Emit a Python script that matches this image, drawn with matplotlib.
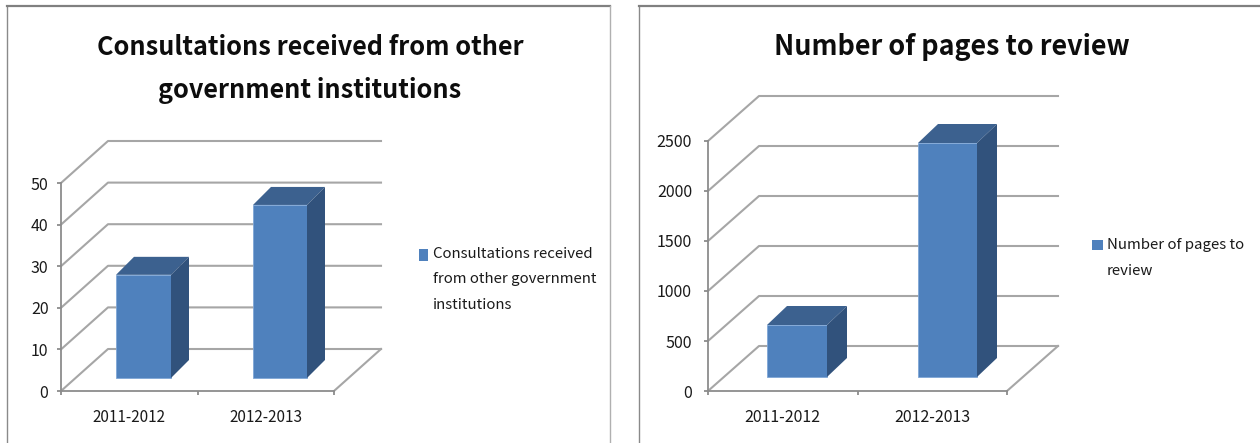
import matplotlib
matplotlib.use("Agg")
import matplotlib.pyplot as plt
from matplotlib.patches import Polygon, Rectangle

W, H = 1260, 443
plt.rcParams['font.family'] = ['Noto Sans CJK SC', 'DejaVu Sans']

periods = ["2011-2012", "2012-2013"]

consult_title = "Consultations received from other\ngovernment institutions"
consult_legend = "Consultations received\nfrom other government\ninstitutions"
consult_values = [24.8, 41.6]
consult_ticks = [0, 10, 20, 30, 40, 50]

pages_title = "Number of pages to review"
pages_legend = "Number of pages to\nreview"
pages_values = [520, 2340]
pages_ticks = [0, 500, 1000, 1500, 2000, 2500]

FRONT = "#4F81BD"
TOP = "#3C618F"
SIDE = "#31527C"
GRID = "#A6A6A6"
AXIS = "#8C8C8C"
INK = "#1A1A1A"

fig = plt.figure(figsize=(W / 100, H / 100), dpi=100, facecolor="white")


def panel_frame(x0, x1, y0=5.5):
    # Thin window-style border, heavier along the top edge
    bg = fig.add_axes([0, 0, 1, 1], zorder=0)
    bg.set_xlim(0, W)
    bg.set_ylim(H, 0)
    bg.axis("off")
    bg.plot([x0, x0], [y0, H], color="#8A8A8A", lw=1.0)
    bg.plot([x0, x1], [y0, y0], color="#808080", lw=1.6)
    if x1 < W:
        bg.plot([x1, x1], [y0, H], color="#B0B0B0", lw=1.0)


def chart(rect, ticks, values, depth, bar_depth, lift, bar_edges, title, title_y, title_size,
          legend, legend_xy, swatch, tick_pad, label_size):
    left, right, top, bottom = rect
    ax = fig.add_axes([left / W, 1 - bottom / H, (right - left) / W, (bottom - top) / H],
                      zorder=2)
    ax.set_xlim(0, 2)
    ax.set_ylim(ticks[0], ticks[-1])
    ax.patch.set_alpha(0)
    for s in ("top", "right"):
        ax.spines[s].set_visible(False)
    for s in ("left", "bottom"):
        ax.spines[s].set_color(AXIS)
        ax.spines[s].set_linewidth(1.3)

    ux = 2 / (right - left)                 # data units per pixel, horizontal
    uy = ticks[-1] / (bottom - top)         # data units per pixel, vertical
    ddx, ddy = depth[0] * ux, depth[1] * uy

    # Back wall gridlines with their diagonal returns to the axis
    for t in ticks:
        ax.plot([0, ddx, 2 + ddx], [t, t + ddy, t + ddy], color=GRID, lw=1.5,
                clip_on=False, zorder=1)
    ax.plot([2, 2 + ddx], [0, ddy], color=GRID, lw=1.5, clip_on=False, zorder=1)

    # Extruded columns: front face, top and side
    bdx, bdy = bar_depth[0] * ux, bar_depth[1] * uy
    base = lift * uy
    for (xa, xb), v in zip(bar_edges, values):
        a, b = (xa - left) * ux, (xb - left) * ux
        ax.bar((a + b) / 2, v, width=b - a, bottom=base, color=FRONT, zorder=3,
               edgecolor="#7FA6D6", linewidth=0.6)
        t = base + v
        ax.add_patch(Polygon([(a, t), (a + bdx, t + bdy), (b + bdx, t + bdy), (b, t)],
                             closed=True, facecolor=TOP, edgecolor="none", zorder=3,
                             clip_on=False))
        ax.add_patch(Polygon([(b, base), (b + bdx, base + bdy), (b + bdx, t + bdy), (b, t)],
                             closed=True, facecolor=SIDE, edgecolor="none", zorder=3,
                             clip_on=False))

    ax.set_yticks(ticks)
    ax.set_xticks([0, 1, 2])
    ax.set_xticklabels([])
    ax.tick_params(axis="both", color=AXIS, width=1.3, length=3, direction="out")
    ax.tick_params(axis="y", labelsize=11.5, labelcolor=INK, pad=tick_pad)
    for i, name in enumerate(periods):
        ax.text(i + 0.5, -27 * uy, name, ha="center", va="center", fontsize=label_size,
                color=INK)

    centre, heading = title
    fig.text(centre / W, 1 - title_y / H, heading, ha="center", va="center",
             fontsize=title_size, fontweight="bold", color="#0D0D0D", linespacing=1.8)

    lx, ly = legend_xy
    sx0, sx1, sy0, sy1 = swatch
    fig.patches.append(Rectangle((sx0 / W, 1 - sy1 / H), (sx1 - sx0) / W, (sy1 - sy0) / H,
                                 transform=fig.transFigure, facecolor=FRONT,
                                 edgecolor="none", zorder=5))
    fig.text(lx / W, 1 - ly / H, legend, ha="left", va="center", fontsize=10.8, color=INK,
             linespacing=2.02)


panel_frame(7, 610)
panel_frame(639, W)

chart((61, 334, 183, 391), consult_ticks, consult_values, (47, 42), (18, 18), 13,
      [(116, 171), (253, 307)], (310, consult_title), 69, 18.2, consult_legend, (433, 279.5),
      (419, 428, 249, 261), 6, 11)

chart((708, 1007, 141, 391), pages_ticks, pages_values, (51, 45), (20, 19), 14,
      [(767, 827), (918, 977)], (952, pages_title), 47, 19.4, pages_legend, (1107, 258),
      (1092, 1103, 240, 250), 8.5, 11.5)

fig.savefig("out.png", dpi=100, facecolor="white")
